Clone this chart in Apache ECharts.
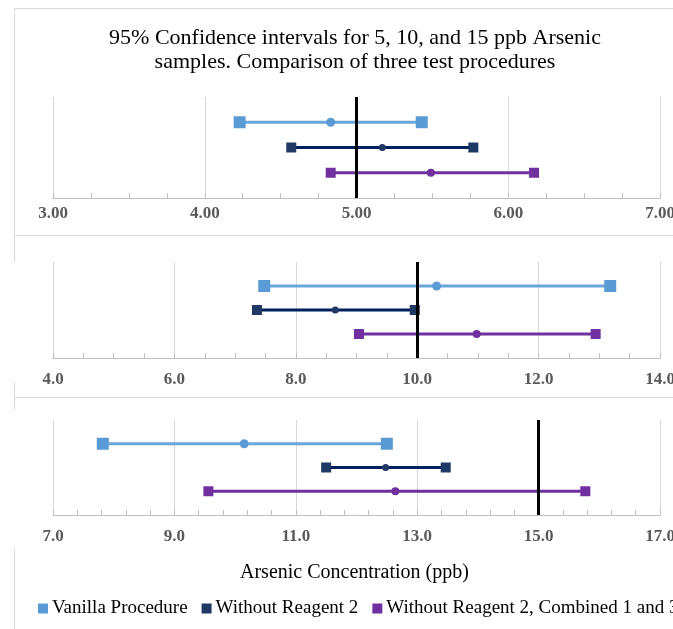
<!DOCTYPE html>
<html>
<head>
<meta charset="utf-8">
<title>Arsenic confidence intervals</title>
<script src="https://cdn.jsdelivr.net/npm/echarts@6/dist/echarts.min.js"></script>
<style>
  html, body { margin: 0; padding: 0; background: #fff; }
  #main { width: 673px; height: 629px; }
</style>
</head>
<body>
<div id="main"></div>
<script type="text/javascript">
// procedures, one row each in every panel
var procedures = ['Vanilla Procedure', 'Without Reagent 2', 'Without Reagent 2, Combined 1 and 3'];
var rowY = [3, 2, 1];

// 5 ppb sample
var low5 = [4.23, 4.57, 4.83];
var mean5 = [4.83, 5.17, 5.49];
var high5 = [5.43, 5.77, 6.17];

// 10 ppb sample
var low10 = [7.48, 7.36, 9.04];
var mean10 = [10.32, 8.65, 10.98];
var high10 = [13.18, 9.96, 12.94];

// 15 ppb sample
var low15 = [7.82, 11.50, 9.56];
var mean15 = [10.15, 12.48, 12.64];
var high15 = [12.50, 13.47, 15.77];

var targets = [5, 10, 15];
var axisMin = [3, 4, 7];
var axisMax = [7, 14, 17];
var axisStep = [1, 2, 2];
var minorSplits = [4, 4, 5];
var labelDecimals = [2, 1, 1];
var labelGap = [7, 13, 13];

var lows = [low5, low10, low15];
var means = [mean5, mean10, mean15];
var highs = [high5, high10, high15];

var serif = '"Liberation Serif", "DejaVu Serif", serif';
var lineColors = ['#6aa5dc', '#002060', '#7030a0'];
var markColors = ['#5b9bd5', '#203864', '#7030a0'];
var squareSize = [12, 10, 10];
var dotSize = [9, 7, 8];

var grids = [
	{ left: 53, right: 13, top: 97, height: 101, outerBoundsMode: 'none' },
	{ left: 53, right: 13, top: 262, height: 96, outerBoundsMode: 'none' },
	{ left: 53, right: 13, top: 420, height: 95, outerBoundsMode: 'none' }
];

var xAxes = [], yAxes = [], series = [];
for (var p = 0; p < 3; p++) {
	(function (p) {
		xAxes.push({
			type: 'value', gridIndex: p,
			min: axisMin[p], max: axisMax[p], interval: axisStep[p],
			axisLine: { show: true, lineStyle: { color: '#bfbfbf', width: 1 } },
			axisTick: { show: true, inside: true, length: 5, lineStyle: { color: '#bfbfbf' } },
			minorTick: { show: true, splitNumber: minorSplits[p], length: 5, lineStyle: { color: '#bfbfbf' } },
			splitLine: { show: true, lineStyle: { color: '#d9d9d9', width: 1 } },
			axisLabel: {
				color: '#595959', fontFamily: serif, fontWeight: 'bold', fontSize: 17, margin: labelGap[p],
				showMinLabel: true, showMaxLabel: true, hideOverlap: false,
				formatter: function (v) { return v.toFixed(labelDecimals[p]); }
			}
		});
		yAxes.push({ type: 'value', gridIndex: p, min: 0, max: 4, show: false });
		for (var s = 0; s < 3; s++) {
			var pts = [
				{ value: [lows[p][s], rowY[s]], symbol: 'rect', symbolSize: squareSize[s] },
				{ value: [means[p][s], rowY[s]], symbol: 'circle', symbolSize: dotSize[s] },
				{ value: [highs[p][s], rowY[s]], symbol: 'rect', symbolSize: squareSize[s] }
			];
			var ser = {
				name: procedures[s], type: 'line', xAxisIndex: p, yAxisIndex: p,
				data: pts, showAllSymbol: true, silent: true, animation: false,
				lineStyle: { color: lineColors[s], width: 3 },
				itemStyle: { color: markColors[s], opacity: 1 },
				z: 3
			};
			if (s === 0) {
				ser.markLine = {
					silent: true, symbol: 'none', animation: false,
					label: { show: false },
					lineStyle: { color: '#000', width: 3, type: 'solid' },
					data: [{ xAxis: targets[p] }],
					z: 5
				};
			}
			series.push(ser);
		}
	})(p);
}

var frame = { stroke: '#d9d9d9', lineWidth: 1 };
var myChart = echarts.init(document.getElementById('main'));
myChart.setOption({
	animation: false,
	title: {
		text: '95% Confidence intervals for 5, 10, and 15 ppb Arsenic\nsamples. Comparison of three test procedures',
		left: 350, top: 21, textAlign: 'center',
		textStyle: { fontFamily: serif, fontSize: 22, fontWeight: 'normal', color: '#000', lineHeight: 24 }
	},
	legend: {
		left: 38, top: 599, width: 1200, padding: 0,
		itemWidth: 10, itemHeight: 10, itemGap: 14,
		icon: 'rect',
		data: procedures.map(function (n, i) { return { name: n, itemStyle: { color: markColors[i] } }; }),
		textStyle: { fontFamily: serif, fontSize: 19, color: '#000', padding: [0, 0, 0, -1] },
		selectedMode: false
	},
	graphic: [
		{ type: 'line', shape: { x1: 14.5, y1: 8.5, x2: 673, y2: 8.5 }, style: frame, silent: true },
		{ type: 'line', shape: { x1: 14.5, y1: 8.5, x2: 14.5, y2: 262 }, style: frame, silent: true },
		{ type: 'line', shape: { x1: 14.5, y1: 235.5, x2: 673, y2: 235.5 }, style: frame, silent: true },
		{ type: 'line', shape: { x1: 14.5, y1: 382, x2: 14.5, y2: 410 }, style: frame, silent: true },
		{ type: 'line', shape: { x1: 14.5, y1: 397.5, x2: 673, y2: 397.5 }, style: frame, silent: true },
		{ type: 'line', shape: { x1: 14.5, y1: 549, x2: 14.5, y2: 629 }, style: frame, silent: true },
		{
			type: 'text', left: 240, top: 563, silent: true,
			style: { text: 'Arsenic Concentration (ppb)', fill: '#000', font: '20px ' + serif }
		}
	],
	grid: grids,
	xAxis: xAxes,
	yAxis: yAxes,
	series: series
});
</script>
</body>
</html>
